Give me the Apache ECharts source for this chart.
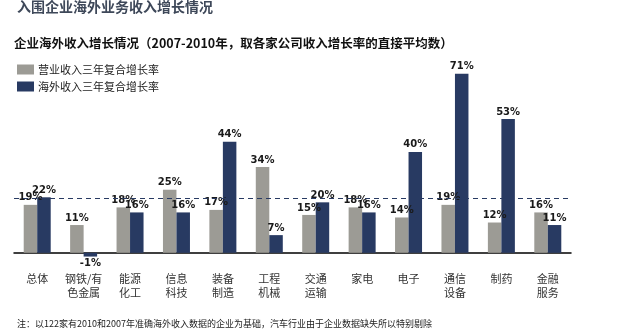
<!DOCTYPE html>
<html>
<head>
<meta charset="utf-8">
<script src="https://cdn.jsdelivr.net/npm/echarts@6/dist/echarts.min.js"></script>
<style>
html,body{margin:0;padding:0;background:#fff;}
#c{width:619px;height:333px;}
</style>
</head>
<body>
<div id="c"></div>
<script>
const categories = ['总体', '钢铁/有\n色金属', '能源\n化工', '信息\n科技', '装备\n制造', '工程\n机械', '交通\n运输', '家电', '电子', '通信\n设备', '制药', '金融\n服务'];
const revenueGrowth = [19, 11, 18, 25, 17, 34, 15, 18, 14, 19, 12, 16];
const overseasGrowth = [22, -1.5, 16, 16, 44, 7, 20, 16, 40, 71, 53, 11];
const revenueLabels = ['19%', '11%', '18%', '25%', '17%', '34%', '15%', '18%', '14%', '19%', '12%', '16%'];
const overseasLabels = ['22%', '-1%', '16%', '16%', '44%', '7%', '20%', '16%', '40%', '71%', '53%', '11%'];
const referenceLine = 21.6;
const seriesNames = ['营业收入三年复合增长率', '海外收入三年复合增长率'];

const GRAY = '#9c9b95';
const BLUE = '#283a62';
const FONT = '"Noto Sans CJK SC", "Noto Sans", sans-serif';

function buildData(values, labels) {
  return values.map((v, i) => ({
    value: v,
    label: { position: v < 0 ? 'bottom' : 'top', formatter: labels[i] }
  }));
}

const labelStyle = {
  show: true,
  fontFamily: '"DejaVu Sans", sans-serif',
  fontWeight: 'bold',
  fontSize: 10,
  color: '#1a1a1a',
  distance: 2
};

const chart = echarts.init(document.getElementById('c'), null, { renderer: 'canvas' });
chart.setOption({
  animation: false,
  title: [
    { text: '入围企业海外业务收入增长情况', left: 12, top: -5,
      textStyle: { fontFamily: FONT, fontSize: 14, fontWeight: 'bold', color: '#3e4859' } },
    { text: '企业海外收入增长情况（2007-2010年，取各家公司收入增长率的直接平均数）', left: 9, top: 32,
      textStyle: { fontFamily: FONT, fontSize: 12.5, fontWeight: 'bold', color: '#111' } },
    { text: '注：以122家有2010和2007年准确海外收入数据的企业为基础，汽车行业由于企业数据缺失所以特别剔除', left: 12, top: 314,
      textStyle: { fontFamily: FONT, fontSize: 9, fontWeight: 'normal', color: '#222' } }
  ],
  legend: {
    orient: 'vertical', left: 12, top: 59,
    itemWidth: 17, itemHeight: 10, itemGap: 6,
    icon: 'rect',
    textStyle: { fontFamily: FONT, fontSize: 11, color: '#222', padding: [0, 0, 0, -1] },
    data: seriesNames
  },
  grid: { left: 14, right: 48, top: 51, bottom: 55, containLabel: false },
  xAxis: {
    type: 'category',
    data: categories,
    axisLine: { onZero: true, lineStyle: { color: '#000', width: 1.5 } },
    axisTick: { show: false },
    axisLabel: {
      interval: 0, fontFamily: FONT, fontSize: 11, color: '#333',
      lineHeight: 14, margin: -6
    }
  },
  yAxis: {
    type: 'value', min: -10, max: 80, show: false,
    splitLine: { show: false }
  },
  series: [
    {
      name: seriesNames[0], type: 'bar', data: buildData(revenueGrowth, revenueLabels),
      itemStyle: { color: GRAY }, barWidth: 13.5, barGap: '0%',
      label: labelStyle,
      markLine: {
        silent: true, symbol: 'none', label: { show: false },
        lineStyle: { color: BLUE, type: [5, 4], width: 1.2 },
        data: [{ yAxis: referenceLine }]
      }
    },
    {
      name: seriesNames[1], type: 'bar', data: buildData(overseasGrowth, overseasLabels),
      itemStyle: { color: BLUE }, barWidth: 13.5, barGap: '0%',
      label: labelStyle
    }
  ]
});
</script>
</body>
</html>
